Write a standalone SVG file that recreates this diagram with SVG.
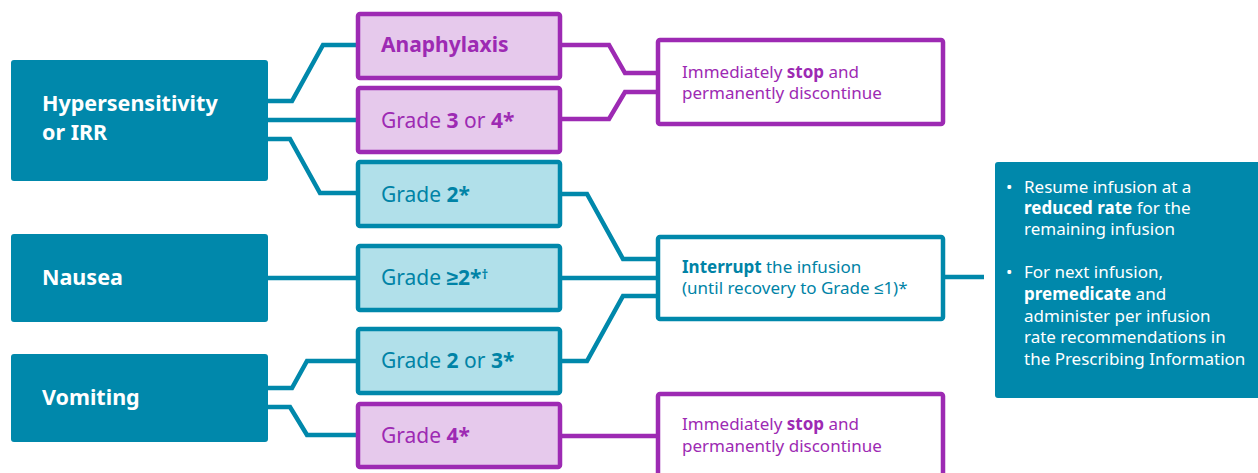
<svg xmlns="http://www.w3.org/2000/svg" width="1258" height="473" viewBox="0 0 1258 473">
<style>
.src{fill:#0088AB;}
.srct{font-family:"Noto Sans","Liberation Sans",sans-serif;font-weight:700;font-size:21.5px;fill:#FFFFFF;}
.pbox{fill:#E6C9EC;stroke:#9D2AB3;stroke-width:4.5;}
.tbox{fill:#B1E0EA;stroke:#0088AB;stroke-width:4.5;}
.pwbox{fill:#FFFFFF;stroke:#9D2AB3;stroke-width:4.5;}
.twbox{fill:#FFFFFF;stroke:#0088AB;stroke-width:4.5;}
.gt{font-family:"Noto Sans","Liberation Sans",sans-serif;font-size:21px;}
.pt{fill:#9D2AB3;}
.tt{fill:#0083A6;}
.at{font-family:"Noto Sans","Liberation Sans",sans-serif;font-size:17px;}
.b{font-weight:700;}
.wt{font-family:"Noto Sans","Liberation Sans",sans-serif;font-size:17px;fill:#FFFFFF;}
.tc{fill:none;stroke:#0088AB;stroke-width:4.5;stroke-linejoin:miter;}
.pc{fill:none;stroke:#9D2AB3;stroke-width:4.5;stroke-linejoin:miter;}
</style>
<rect width="1258" height="473" fill="#FFFFFF"/>
<g id="connectors">
<polyline class="tc" points="268,101 292,101 323,45 356,45"/>
<polyline class="tc" points="268,120 356,120"/>
<polyline class="tc" points="268,139 290,139 320,193 356,193"/>
<polyline class="tc" points="268,278 356,278"/>
<polyline class="tc" points="268,388 292,388 307,361 356,361"/>
<polyline class="tc" points="268,407 290,407 307,435 356,435"/>
<polyline class="pc" points="562,45 609,45 625,73 656,73"/>
<polyline class="pc" points="562,119 609,119 625,92 656,92"/>
<polyline class="tc" points="562,194 587,194 623,259 656,259"/>
<polyline class="tc" points="562,278 656,278"/>
<polyline class="tc" points="562,361 587,361 623,296 656,296"/>
<polyline class="pc" points="562,436 656,436"/>
<polyline class="tc" points="945,277 984,277"/>
</g>
<g id="hypersensitivity">
<rect class="src" x="11" y="60" width="257" height="121" rx="3"/>
<text class="srct" x="42" y="111">Hypersensitivity</text>
<text class="srct" x="42" y="140">or IRR</text>
</g>
<g id="nausea">
<rect class="src" x="11" y="234" width="257" height="88" rx="3"/>
<text class="srct" x="42" y="285">Nausea</text>
</g>
<g id="vomiting">
<rect class="src" x="11" y="354" width="257" height="88" rx="3"/>
<text class="srct" x="42" y="405">Vomiting</text>
</g>
<g id="anaphylaxis">
<rect class="pbox" x="358" y="14" width="202" height="64" rx="2"/>
<text class="gt pt b" x="381" y="52">Anaphylaxis</text>
</g>
<g id="grade34">
<rect class="pbox" x="358" y="88" width="202" height="64" rx="2"/>
<text class="gt pt" x="381" y="128">Grade <tspan class="b">3</tspan> or <tspan class="b">4*</tspan></text>
</g>
<g id="grade2">
<rect class="tbox" x="358" y="162" width="202" height="64" rx="2"/>
<text class="gt tt" x="381" y="202">Grade <tspan class="b">2*</tspan></text>
</g>
<g id="gradege2">
<rect class="tbox" x="358" y="246" width="202" height="64" rx="2"/>
<text class="gt tt" x="381" y="285">Grade <tspan class="b">≥2*<tspan font-size="13" dy="-6">†</tspan></tspan></text>
</g>
<g id="grade23">
<rect class="tbox" x="358" y="329" width="202" height="64" rx="2"/>
<text class="gt tt" x="381" y="368">Grade <tspan class="b">2</tspan> or <tspan class="b">3*</tspan></text>
</g>
<g id="grade4">
<rect class="pbox" x="358" y="404" width="202" height="63" rx="2"/>
<text class="gt pt" x="381" y="443">Grade <tspan class="b">4*</tspan></text>
</g>
<g id="stop1">
<rect class="pwbox" x="658" y="40" width="285" height="84" rx="2"/>
<text class="at pt" x="682" y="78">Immediately <tspan class="b">stop</tspan> and</text>
<text class="at pt" x="682" y="99">permanently discontinue</text>
</g>
<g id="interrupt">
<rect class="twbox" x="658" y="237" width="285" height="82" rx="2"/>
<text class="at tt" x="682" y="273"><tspan class="b">Interrupt</tspan> the infusion</text>
<text class="at tt" x="682" y="294">(until recovery to Grade ≤1)*</text>
</g>
<g id="stop2">
<rect class="pwbox" x="658" y="394" width="285" height="84" rx="2"/>
<text class="at pt" x="682" y="430">Immediately <tspan class="b">stop</tspan> and</text>
<text class="at pt" x="682" y="452">permanently discontinue</text>
</g>
<g id="resume">
<rect class="src" x="995" y="162" width="270" height="236" rx="3"/>
<text class="wt" x="1006" y="193">•</text>
<text class="wt" x="1024" y="193">Resume infusion at a</text>
<text class="wt" x="1024" y="214"><tspan class="b">reduced rate</tspan> for the</text>
<text class="wt" x="1024" y="235">remaining infusion</text>
<text class="wt" x="1006" y="278">•</text>
<text class="wt" x="1024" y="278">For next infusion,</text>
<text class="wt" x="1024" y="300"><tspan class="b">premedicate</tspan> and</text>
<text class="wt" x="1024" y="322">administer per infusion</text>
<text class="wt" x="1024" y="343">rate recommendations in</text>
<text class="wt" x="1024" y="365">the Prescribing Information</text>
</g>
</svg>
